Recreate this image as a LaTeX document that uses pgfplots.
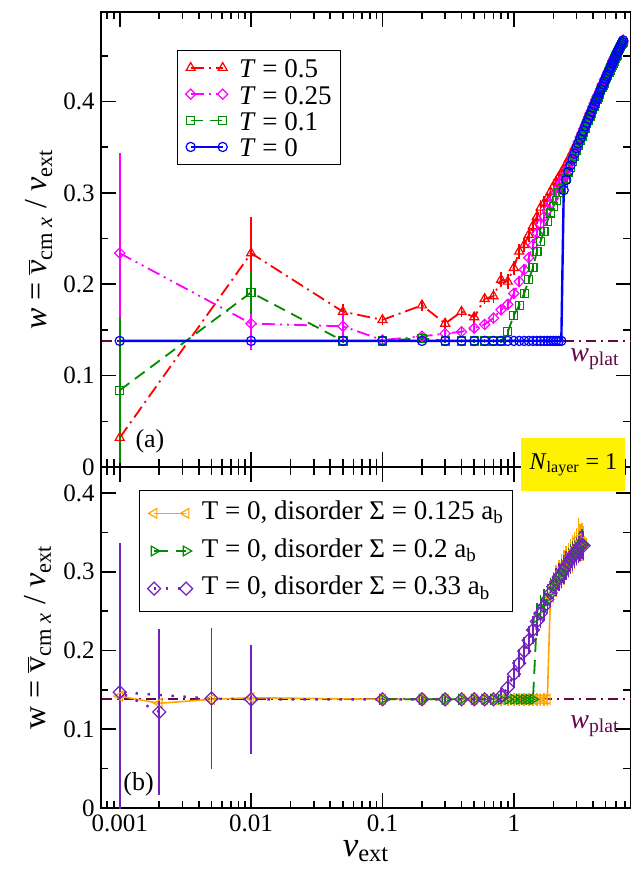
\documentclass[border=0pt]{standalone}
\usepackage{pgfplots}
\pgfplotsset{compat=1.18}
\usepackage{pgfplotstable}
\usepackage{fontspec}
\setmainfont{Liberation Serif}
\definecolor{gmaroon}{RGB}{103,7,72}
\definecolor{ggreen}{RGB}{0,139,0}
\definecolor{gorange}{RGB}{255,165,0}
\definecolor{gindigo}{RGB}{114,33,188}
\definecolor{gmagenta}{RGB}{255,0,255}
\newcommand{\tk}[1]{\mbox{\fontsize{12.5}{15}\selectfont #1}}

\pgfplotstableread{
v r re m me g ge b
0.001 0.032 0.005 0.234 0.110 0.084 0.080 0.138
0.01 0.234 0.040 0.157 0.029 0.191 0.023 0.138
0.05 0.170 0.008 0.154 0.016 0.138 0.002 0.138
0.1 0.161 0.006 0.139 0.004 0.138 0.002 0.138
0.2 0.177 0.006 0.143 0.004 0.141 0.003 0.138
0.3 0.157 0.006 0.146 0.004 0.138 0.002 0.138
0.4 0.170 0.006 0.148 0.004 0.138 0.002 0.138
0.5 0.164 0.006 0.152 0.004 0.138 0.002 0.138
0.6 0.184 0.006 0.156 0.005 0.138 0.002 0.138
0.7 0.187 0.008 0.163 0.005 0.138 0.002 0.138
0.8 0.205 0.008 0.172 0.005 0.138 0.002 0.138
0.9 0.203 0.008 0.178 0.006 0.148 0.003 0.138
1.0 0.218 0.008 0.190 0.006 0.166 0.004 0.138
1.1 0.236 0.008 0.203 0.006 0.177 0.004 0.138
1.2 0.243 0.008 0.216 0.006 0.190 0.004 0.138
1.3 0.254 0.008 0.229 0.006 0.205 0.004 0.138
1.4 0.264 0.008 0.243 0.006 0.218 0.004 0.138
1.5 0.274 0.008 0.256 0.006 0.236 0.004 0.138
1.6 0.284 0.008 0.266 0.006 0.247 0.004 0.138
1.7 0.289 0.008 0.274 0.006 0.258 0.004 0.138
1.8 0.294 0.008 0.281 0.006 0.269 0.004 0.138
1.9 0.301 0.008 0.288 0.006 0.278 0.004 0.138
2.0 0.307 0.008 0.294 0.006 0.285 0.004 0.138
2.1 0.312 0.006 0.300 0.005 0.292 0.004 0.138
2.2 0.317 0.006 0.306 0.005 0.300 0.004 0.138
2.3 0.322 0.006 0.311 0.005 0.305 0.004 0.138
2.4 0.326 0.005 0.316 0.005 0.310 0.004 0.303
2.5 0.331 0.004 0.321 0.003 0.316 0.003 0.314
2.6 0.336 0.004 0.327 0.003 0.322 0.003 0.323
2.7 0.340 0.004 0.333 0.003 0.328 0.003 0.330
2.8 0.345 0.004 0.339 0.003 0.334 0.003 0.337
2.9 0.350 0.004 0.344 0.003 0.340 0.003 0.343
3.0 0.354 0.004 0.350 0.003 0.346 0.003 0.349
3.1 0.358 0.004 0.356 0.003 0.352 0.003 0.354
3.2 0.364 0.004 0.361 0.003 0.357 0.003 0.359
3.3 0.368 0.004 0.365 0.003 0.362 0.003 0.364
3.4 0.373 0.004 0.370 0.003 0.366 0.003 0.368
3.5 0.377 0.004 0.374 0.003 0.371 0.003 0.373
3.6 0.381 0.004 0.378 0.003 0.376 0.003 0.377
3.7 0.386 0.004 0.383 0.003 0.379 0.003 0.381
3.8 0.389 0.004 0.387 0.003 0.384 0.003 0.385
3.9 0.393 0.004 0.390 0.003 0.387 0.003 0.389
4.0 0.397 0.004 0.394 0.003 0.391 0.003 0.393
4.1 0.401 0.004 0.398 0.003 0.395 0.003 0.396
4.2 0.403 0.004 0.402 0.003 0.398 0.003 0.400
4.3 0.407 0.004 0.405 0.003 0.402 0.003 0.403
4.4 0.410 0.004 0.408 0.003 0.405 0.003 0.406
4.5 0.413 0.004 0.411 0.003 0.408 0.003 0.410
4.6 0.417 0.004 0.414 0.003 0.412 0.003 0.413
4.7 0.419 0.004 0.418 0.003 0.415 0.003 0.416
4.8 0.423 0.004 0.420 0.003 0.418 0.003 0.419
4.9 0.425 0.004 0.424 0.003 0.420 0.003 0.422
5.0 0.428 0.004 0.426 0.003 0.424 0.003 0.425
5.1 0.431 0.004 0.429 0.003 0.426 0.003 0.428
5.2 0.434 0.004 0.432 0.003 0.429 0.003 0.430
5.3 0.436 0.004 0.434 0.003 0.432 0.003 0.433
5.4 0.438 0.004 0.437 0.003 0.434 0.003 0.436
5.5 0.441 0.004 0.440 0.003 0.437 0.003 0.438
5.6 0.444 0.004 0.442 0.003 0.440 0.003 0.441
5.7 0.446 0.004 0.444 0.003 0.442 0.003 0.443
5.8 0.448 0.004 0.447 0.003 0.444 0.003 0.446
5.9 0.451 0.004 0.449 0.003 0.447 0.003 0.448
6.0 0.453 0.004 0.451 0.003 0.449 0.003 0.450
6.1 0.455 0.004 0.454 0.003 0.451 0.003 0.453
6.2 0.457 0.004 0.456 0.003 0.454 0.003 0.455
6.3 0.459 0.004 0.458 0.003 0.456 0.003 0.457
6.4 0.461 0.004 0.460 0.003 0.458 0.003 0.459
6.5 0.463 0.004 0.462 0.003 0.460 0.003 0.461
6.6 0.465 0.004 0.464 0.003 0.462 0.003 0.463
6.7 0.466 0.004 0.465 0.003 0.464 0.003 0.465
6.8 0.467 0.004 0.466 0.003 0.465 0.003 0.467
}\toptab

\pgfplotstableread{
v w e
0.001 0.142 0.006
0.002 0.133 0.008
0.005 0.138 0.008
0.01 0.140 0.010
0.1 0.138 0.008
0.2 0.138 0.008
0.3 0.138 0.008
0.4 0.138 0.008
0.5 0.138 0.008
0.6 0.138 0.008
0.7 0.138 0.008
0.8 0.138 0.008
0.9 0.138 0.008
1.0 0.138 0.008
1.1 0.138 0.008
1.2 0.138 0.008
1.3 0.138 0.008
1.4 0.138 0.008
1.5 0.138 0.008
1.6 0.138 0.008
1.7 0.138 0.008
1.8 0.138 0.008
1.9 0.268 0.020
2.0 0.280 0.020
2.1 0.288 0.020
2.2 0.295 0.020
2.3 0.300 0.022
2.4 0.305 0.022
2.5 0.311 0.022
2.6 0.314 0.022
2.7 0.319 0.022
2.8 0.323 0.024
2.9 0.327 0.024
3.0 0.331 0.024
3.1 0.342 0.026
3.2 0.336 0.024
3.3 0.338 0.024
3.4 0.336 0.022
}\orangetab

\pgfplotstableread{
v w e
0.1 0.138 0.006
0.2 0.138 0.006
0.3 0.138 0.006
0.4 0.138 0.006
0.5 0.138 0.006
0.6 0.138 0.006
0.7 0.138 0.006
0.8 0.138 0.006
0.9 0.138 0.006
1.0 0.138 0.006
1.1 0.138 0.006
1.2 0.138 0.006
1.3 0.138 0.006
1.4 0.138 0.006
1.5 0.242 0.018
1.6 0.252 0.018
1.7 0.260 0.018
1.8 0.267 0.018
1.9 0.274 0.018
2.0 0.281 0.018
2.1 0.287 0.018
2.2 0.293 0.018
2.3 0.298 0.018
2.4 0.303 0.018
2.5 0.308 0.018
2.6 0.312 0.018
2.7 0.317 0.018
2.8 0.321 0.018
2.9 0.325 0.018
3.0 0.328 0.018
3.1 0.331 0.018
3.2 0.334 0.018
3.3 0.336 0.018
3.4 0.334 0.018
}\greentab

\pgfplotstableread{
v w e
0.002 0.122 0.105
0.001 0.147 0.190
0.005 0.139 0.089
0.01 0.138 0.069
0.1 0.138 0.006
0.2 0.138 0.006
0.3 0.138 0.006
0.4 0.138 0.006
0.5 0.138 0.006
0.6 0.138 0.006
0.7 0.138 0.006
0.8 0.142 0.010
0.9 0.153 0.015
1.0 0.170 0.018
1.1 0.184 0.018
1.2 0.199 0.018
1.3 0.213 0.018
1.4 0.226 0.018
1.5 0.237 0.018
1.6 0.247 0.018
1.7 0.256 0.018
1.8 0.265 0.018
1.9 0.273 0.018
2.0 0.281 0.018
2.1 0.287 0.018
2.2 0.293 0.018
2.3 0.297 0.018
2.4 0.302 0.018
2.5 0.307 0.018
2.6 0.311 0.018
2.7 0.315 0.018
2.8 0.319 0.018
2.9 0.323 0.018
3.0 0.326 0.018
3.1 0.329 0.018
3.2 0.332 0.018
3.3 0.334 0.018
3.4 0.333 0.018
}\purpletab

\pgfplotsset{
  legend image code/.code={\draw[#1] plot coordinates {(0pt,0pt) (16pt,0pt)}; \path (23pt,0pt);},
}

\begin{document}
\begin{tikzpicture}
\useasboundingbox (-50.5pt,-203pt) rectangle (265pt,233.5pt);
% ---------------- top panel ----------------
\begin{axis}[
  scale only axis, width=265pt, height=227.5pt,
  at={(0,0)}, anchor=south west,
  xmode=log, xmin=0.00072, xmax=7.8,
  ymin=0, ymax=0.498,
  xtick={0.001,0.01,0.1,1}, xticklabels={},
  minor xtick={0.0008,0.0009,0.002,0.003,0.004,0.005,0.006,0.007,0.008,0.009,0.02,0.03,0.04,0.05,0.06,0.07,0.08,0.09,0.2,0.3,0.4,0.5,0.6,0.7,0.8,0.9,2,3,4,5,6,7},
  ytick={0,0.1,0.2,0.3,0.4}, yticklabels={\tk{0},\tk{0.1},\tk{0.2},\tk{0.3},\tk{0.4}},
  minor ytick={0.05,0.15,0.25,0.35,0.45},
  tick align=inside, major tick length=7.5pt, minor tick length=3.75pt,
  tick style={black, line width=0.8pt},
  axis line style={line width=0.9pt},
  /pgf/number format/assume math mode=true,
  yticklabel style={inner sep=1pt, xshift=-2pt},
  ylabel={\textit{w} = $\overline{\mbox{\textit{v}}}$\textsubscript{cm \textit{x}} / \textit{v}\textsubscript{ext}},
  ylabel style={font=\fontsize{16}{19}\selectfont, at={(axis description cs:-0.117,0.5)}, anchor=center},
  legend cell align=left,
  legend style={at={(axis description cs:0.1434,0.9165)}, anchor=north west,
    draw=black, line width=0.6pt, inner xsep=4pt, inner ysep=2pt,
    font=\fontsize{13.5}{15}\selectfont,
    nodes={inner sep=0.6pt, text height=11pt, text depth=1pt}, row sep=0pt},
]
\addplot[gmaroon, line width=1.1pt, dash pattern=on 5pt off 2.5pt on 1pt off 2.5pt, forget plot]
  coordinates {(0.0005,0.138) (10,0.138)};
\addplot[color=red, line width=0.9pt, dash pattern=on 6.5pt off 2.5pt on 1pt off 2.5pt,
  mark=triangle, mark size=2.6pt, mark options={solid, line width=0.6pt},
  error bars/.cd, y dir=both, y explicit, error mark=none, error bar style={solid, line width=0.8pt}]
  table[x=v, y=r, y error=re] {\toptab};
\addlegendentry{\textit{T} = 0.5}
\addplot[color=gmagenta, line width=0.9pt, dash pattern=on 6.5pt off 2.5pt on 1pt off 2.5pt on 1pt off 2.5pt,
  mark=square, mark size=1.8pt, mark options={solid, rotate=45, line width=0.6pt},
  error bars/.cd, y dir=both, y explicit, error mark=none, error bar style={solid, line width=0.8pt}]
  table[x=v, y=m, y error=me] {\toptab};
\addlegendentry{\textit{T} = 0.25}
\addplot[color=ggreen, line width=0.9pt, dash pattern=on 6pt off 3.5pt,
  mark=square, mark size=2pt, mark options={solid, line width=0.6pt},
  error bars/.cd, y dir=both, y explicit, error mark=none, error bar style={solid, line width=0.8pt}]
  table[x=v, y=g, y error=ge] {\toptab};
\addlegendentry{\textit{T} = 0.1}
\addplot[color=blue, line width=1.2pt, solid,
  mark=o, mark size=2.3pt, mark options={solid, line width=0.6pt}]
  table[x=v, y=b] {\toptab};
\addlegendentry{\textit{T} = 0}
\node[anchor=west, inner sep=0, font=\fontsize{13}{15}\selectfont] at (axis cs:0.00131,0.0285) {(a)};
\node[anchor=north west, inner sep=0, text=gmaroon, font=\fontsize{14}{16}\selectfont] at (axis cs:2.68,0.130) {\textit{w}\textsubscript{plat}};
\end{axis}
% ---------------- bottom panel ----------------
\begin{axis}[
  scale only axis, width=265pt, height=170.5pt,
  at={(0,0)}, anchor=north west,
  xmode=log, xmin=0.00072, xmax=7.8,
  ymin=0, ymax=0.433,
  xtick={0.001,0.01,0.1,1}, xticklabels={\tk{0.001},\tk{0.01},\tk{0.1},\tk{1}},
  minor xtick={0.0008,0.0009,0.002,0.003,0.004,0.005,0.006,0.007,0.008,0.009,0.02,0.03,0.04,0.05,0.06,0.07,0.08,0.09,0.2,0.3,0.4,0.5,0.6,0.7,0.8,0.9,2,3,4,5,6,7},
  ytick={0,0.1,0.2,0.3,0.4}, yticklabels={\tk{0},\tk{0.1},\tk{0.2},\tk{0.3},\tk{0.4}},
  minor ytick={0.05,0.15,0.25,0.35},
  tick align=inside, major tick length=7.5pt, minor tick length=3.75pt,
  tick style={black, line width=0.8pt},
  axis line style={line width=0.9pt},
  /pgf/number format/assume math mode=true,
  yticklabel style={inner sep=1pt, xshift=-2pt},
  xlabel={\textit{v}\textsubscript{ext}},
  xlabel style={font=\fontsize{17.5}{20}\selectfont, at={(axis description cs:0.5,0)}, anchor=north, inner sep=0, yshift=-16pt},
  ylabel={w = $\overline{\mbox{v}}$\textsubscript{cm \textit{x}} / \textit{v}\textsubscript{ext}},
  ylabel style={font=\fontsize{16}{19}\selectfont, at={(axis description cs:-0.119,0.5)}, anchor=center},
  legend cell align=left,
  legend style={at={(axis description cs:0.0717,0.9326)}, anchor=north west,
    draw=black, line width=0.6pt, inner xsep=4pt, inner ysep=2pt,
    font=\fontsize{13.5}{15}\selectfont,
    nodes={inner sep=0.3pt, text height=12.2pt, text depth=6pt}, row sep=0pt},
]
\addplot[gmaroon, line width=1.1pt, dash pattern=on 5pt off 2.5pt on 1pt off 2.5pt, forget plot]
  coordinates {(0.0005,0.138) (10,0.138)};
\addplot[color=gorange, line width=0.8pt, solid,
  mark=triangle, mark size=2.8pt, mark options={solid, rotate=90, line width=0.6pt},
  error bars/.cd, y dir=both, y explicit, error mark=none, error bar style={solid, line width=0.8pt}]
  table[x=v, y=w, y error=e] {\orangetab};
\addlegendentry{T = 0, disorder Σ = 0.125 a\textsubscript{b}}
\addplot[color=ggreen, line width=0.9pt, dash pattern=on 7pt off 4pt,
  mark=triangle, mark size=2.8pt, mark options={solid, rotate=-90, line width=0.6pt},
  error bars/.cd, y dir=both, y explicit, error mark=none, error bar style={solid, line width=0.8pt}]
  table[x=v, y=w, y error=e] {\greentab};
\addlegendentry{T = 0, disorder Σ = 0.2 a\textsubscript{b}}
\addplot[color=gindigo, line width=1.2pt, dash pattern=on 1.2pt off 4.8pt,
  mark=square, mark size=2.3pt, mark options={solid, rotate=45, line width=0.6pt},
  error bars/.cd, y dir=both, y explicit, error mark=none, error bar style={solid, line width=0.8pt}]
  table[x=v, y=w, y error=e] {\purpletab};
\addlegendentry{T = 0, disorder Σ = 0.33 a\textsubscript{b}}
\node[anchor=west, inner sep=0, font=\fontsize{13}{15}\selectfont] at (axis cs:0.00106,0.030) {(b)};
\node[anchor=north west, inner sep=0, text=gmaroon, font=\fontsize{14}{16}\selectfont] at (axis cs:2.68,0.118) {\textit{w}\textsubscript{plat}};
\end{axis}
\node[fill=yellow, anchor=north west, inner sep=0, minimum width=52pt, minimum height=26.5pt,
  font=\fontsize{12}{14}\selectfont] at (210pt,14.5pt) {\textit{N}\textsubscript{layer} = 1};
\end{tikzpicture}
\end{document}
